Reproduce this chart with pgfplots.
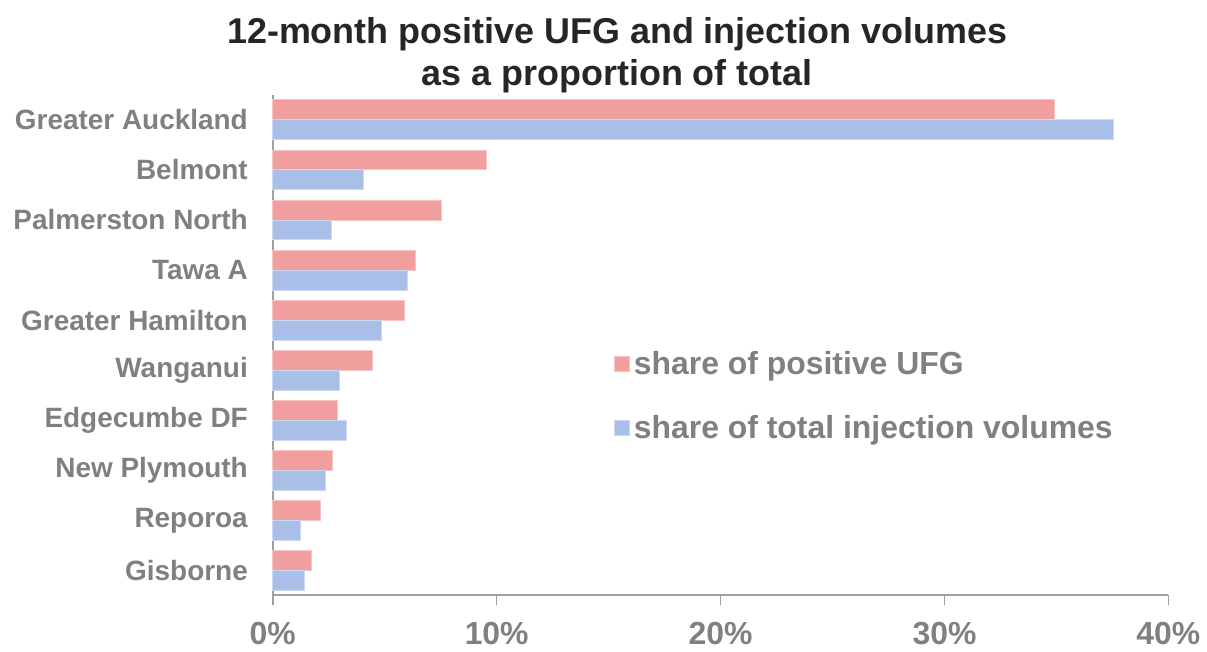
\documentclass[border=0pt]{standalone}
\usepackage{pgfplots}
\pgfplotsset{compat=1.18}
\usepackage{fontspec}
\setmainfont{Liberation Sans}
\usetikzlibrary{calc}
\definecolor{ufgred}{HTML}{F19E9F}
\definecolor{injblue}{HTML}{A9BFE8}
\definecolor{txtgray}{HTML}{808080}
\definecolor{axgray}{HTML}{A0A0A0}
\definecolor{titleblk}{HTML}{262626}

\begin{document}
\begin{tikzpicture}
\begin{axis}[
    name=ax,
    xbar,
    scale only axis,
    width=449pt, height=251pt,
    bar width=10pt,
    xmin=0, xmax=40,
    ymin=-0.5, ymax=9.5,
    y dir=reverse,
    ytick={0,...,9},
    yticklabels={Greater Auckland, Belmont, Palmerston North, Tawa A, Greater Hamilton,
                 Wanganui, Edgecumbe DF, New Plymouth, Reporoa, Gisborne},
    xtick={0,10,20,30,40},
    xticklabel={\pgfmathprintnumber{\tick}\%},
    /pgf/number format/assume math mode=true,
    font=\bfseries,
    yticklabel style={font=\fontsize{14}{16}\selectfont\bfseries, text=txtgray, xshift=-4pt},
    xticklabel style={font=\fontsize{16}{18}\selectfont\bfseries, text=txtgray, yshift=-5pt},
    axis x line*=bottom,
    axis y line*=left,
    axis line style={axgray, line width=1pt, -},
    ytick style={draw=none},
    xtick style={axgray, line width=0.8pt},
    xtick align=outside,
    major tick length=5pt,
    legend style={draw=none, fill=none, at={(rel axis cs:0.374,0.505)}, anchor=north west,
                  font=\fontsize{16}{18}\selectfont\bfseries, text=txtgray,
                  row sep=15pt, legend cell align=left},
    legend image code/.code={\fill[#1] (-2pt,-3.75pt) rectangle (5.5pt,3.75pt);},
    clip=false,
]
\addplot[fill=ufgred, draw=ufgred!60!white, bar shift=5pt] coordinates {
    (34.9,0) (9.55,1) (7.52,2) (6.36,3) (5.89,4)
    (4.45,5) (2.87,6) (2.68,7) (2.13,8) (1.73,9)
};
\addplot[fill=injblue, draw=injblue!60!white, bar shift=-5pt] coordinates {
    (37.54,0) (4.05,1) (2.60,2) (6.02,3) (4.86,4)
    (2.96,5) (3.29,6) (2.34,7) (1.24,8) (1.39,9)
};
\legend{share of positive UFG, share of total injection volumes}
\node[anchor=south, align=center, text=titleblk, font=\fontsize{18}{21}\selectfont\bfseries]
    at ($(rel axis cs:0.3845,1)+(0,10pt)$) {12-month positive UFG and injection volumes\\as a proportion of total};
\end{axis}
\path ($(ax.south west)+(-136.75pt,-25.5pt)$) rectangle ($(ax.north east)+(17.5pt,47.5pt)$);
\end{tikzpicture}
\end{document}
